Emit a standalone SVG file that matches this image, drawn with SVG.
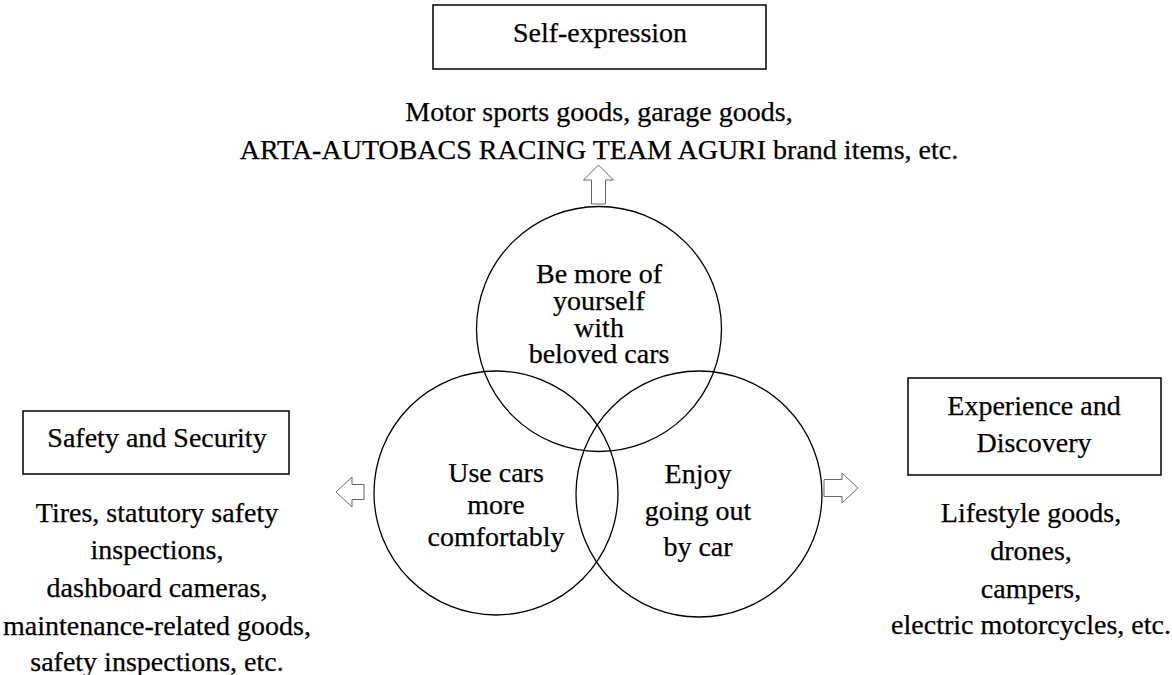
<svg xmlns="http://www.w3.org/2000/svg" width="1172" height="675" viewBox="0 0 1172 675">
<style>
text{font-family:"Liberation Serif","Times New Roman",Tinos,serif;font-size:28px;fill:#000;stroke:#000;stroke-width:0.25;text-anchor:middle}
.box{fill:#fff;stroke:#000;stroke-width:1.5}
.circ{fill:none;stroke:#000;stroke-width:1.3}
.arr{fill:#fff;stroke:#666;stroke-width:1}
</style>
<rect width="1172" height="675" fill="#fff"/>
<g id="self-expression">
<rect class="box" x="433" y="5" width="333" height="64"/>
<text x="600" y="42">Self-expression</text>
<text x="599" y="121">Motor sports goods, garage goods,</text>
<text x="599" y="159">ARTA-AUTOBACS RACING TEAM AGURI brand items, etc.</text>
</g>
<g id="safety">
<rect class="box" x="23" y="411" width="266" height="63"/>
<text x="157" y="447">Safety and Security</text>
<text x="157" y="522">Tires, statutory safety</text>
<text x="157" y="559">inspections,</text>
<text x="157" y="597">dashboard cameras,</text>
<text x="157" y="635">maintenance-related goods,</text>
<text x="157" y="671">safety inspections, etc.</text>
</g>
<g id="experience">
<rect class="box" x="908" y="378" width="253" height="97"/>
<text x="1034" y="415">Experience and</text>
<text x="1034" y="452">Discovery</text>
<text x="1031" y="522">Lifestyle goods,</text>
<text x="1031" y="560">drones,</text>
<text x="1031" y="598">campers,</text>
<text x="1031" y="634">electric motorcycles, etc.</text>
</g>
<g id="circle-top">
<circle class="circ" cx="599" cy="329" r="122.5"/>
<text x="599" y="283">Be more of</text>
<text x="599" y="310">yourself</text>
<text x="599" y="337">with</text>
<text x="599" y="363">beloved cars</text>
</g>
<g id="circle-left">
<circle class="circ" cx="496" cy="493" r="122"/>
<text x="496" y="482">Use cars</text>
<text x="496" y="514">more</text>
<text x="496" y="546">comfortably</text>
</g>
<g id="circle-right">
<circle class="circ" cx="699" cy="494" r="123"/>
<text x="698" y="483">Enjoy</text>
<text x="698" y="520">going out</text>
<text x="698" y="556">by car</text>
</g>
<g id="connectors">
<path class="arr" d="M591.5 204 V180 H583.5 L598.5 165 L613.5 180 H605.5 V204 Z"/>
<path class="arr" d="M364 484.5 H352 V477 L336 492 L352 507 V499.5 H364 Z"/>
<path class="arr" d="M824 479.5 H842 V473 L858 488 L842 503 V496.5 H824 Z"/>
</g>
</svg>
